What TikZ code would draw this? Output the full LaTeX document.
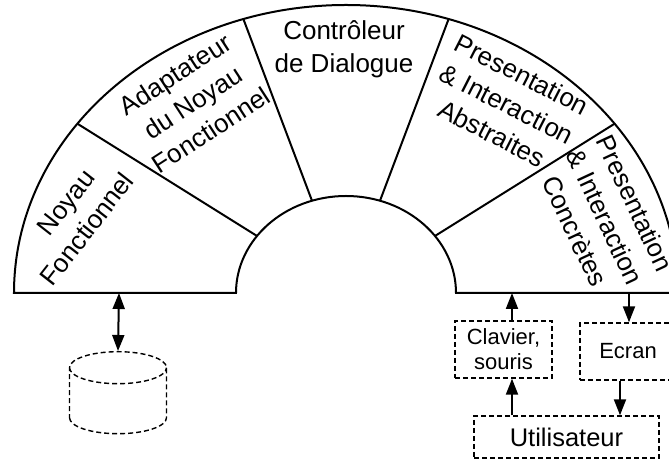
\documentclass[tikz,border=0pt]{standalone}
\usepackage{fontspec}
\setmainfont{Liberation Sans}
\usetikzlibrary{shapes.geometric,arrows.meta}

\begin{document}
\begin{tikzpicture}[x=0.5pt, y=0.5pt,
    arch/.style={line width=1pt},
    sectortext/.style={align=center, font=\fontsize{13}{16.5}\selectfont},
    device/.style={draw, dash pattern=on 2.5pt off 1.5pt, line width=0.7pt,
      align=center, font=\fontsize{11}{12.5}\selectfont},
    arr/.style={line width=1pt, -{Triangle[length=8pt,width=6pt]}},
    darr/.style={line width=1pt, {Triangle[length=8pt,width=6pt]}-{Triangle[length=8pt,width=6pt]}}
    ]
    \useasboundingbox (-346,-166) rectangle (323,293);

    \draw[arch] (-332,0) arc[start angle=180, end angle=0, x radius=332, y radius=288]
      -- (110,0) arc[start angle=0, end angle=180, x radius=110, y radius=97] -- cycle;
    \foreach \a in {144,108,72,36}
      \draw[arch] (\a:110 and 97) -- (\a:332 and 288);

    \node[sectortext, rotate=52] (noyau) at (-272,74) {\hspace*{8pt}Noyau\\Fonctionnel};
    \node[sectortext, rotate=33] (adapt) at (-153,191) {Adaptateur\\du Noyau\\Fonctionnel};
    \node[sectortext] (ctrl) at (-2,244) {Contrôleur\\de Dialogue};
    \node[sectortext, rotate=-27] (pia) at (161,189) {Presentation\\\& Interaction\\Abstraites};
    \node[sectortext, rotate=-65] (pic) at (259,76) {Presentation\\\& Interaction\\Concrètes};

    \node[cylinder, shape border rotate=90, draw, dash pattern=on 2.5pt off 1.5pt,
      line width=0.7pt, minimum width=48.5pt, minimum height=41pt, aspect=2.4,
      anchor=north] (db) at (-228,-58) {};

    \node[device, minimum width=48.5pt, minimum height=28.5pt] (clavier) at (157.5,-56.5) {Clavier,\\souris};
    \node[device, minimum width=48pt, minimum height=28.5pt] (ecran) at (282,-58.5) {Ecran};
    \node[device, font=\fontsize{12.75}{15}\selectfont, minimum width=92.5pt,
      minimum height=21pt] (user) at (220.5,-144) {Utilisateur};

    \coordinate (nf-port) at (-227,0);
    \coordinate (pic-in) at (166,0);
    \coordinate (pic-out) at (283,0);

    \draw[darr] (nf-port) -- (db.north);
    \draw[arr] (clavier.north -| pic-in) -- (pic-in);
    \draw[arr] (user.north -| pic-in) -- (clavier.south -| pic-in);
    \draw[arr] (pic-out) -- (ecran.north -| pic-out);
    \draw[arr] ([xshift=-4pt]ecran.south) -- ([xshift=-4pt]ecran.south |- user.north);
\end{tikzpicture}
\end{document}
